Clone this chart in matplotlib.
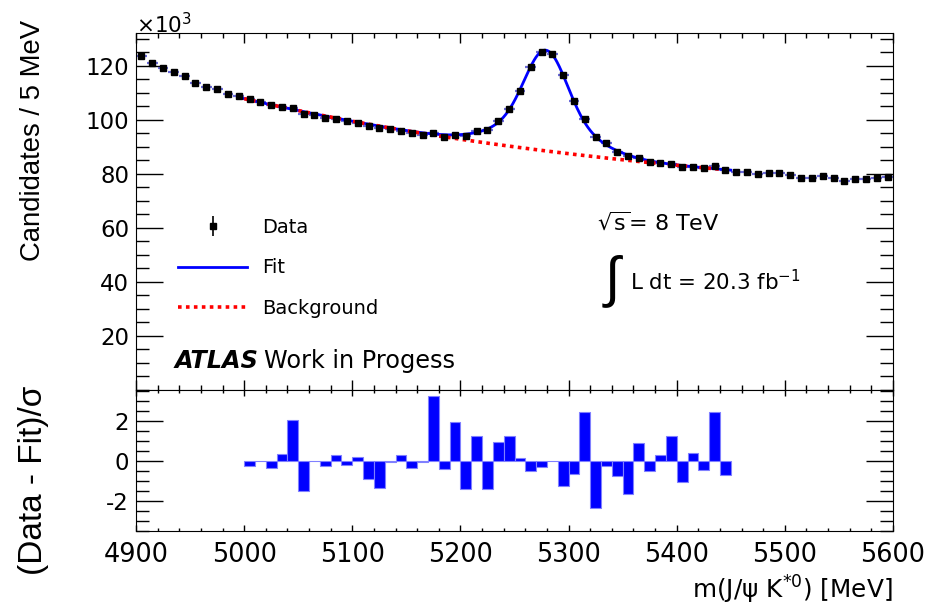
import numpy as np
import matplotlib
matplotlib.use('Agg')
import matplotlib.pyplot as plt
from matplotlib.ticker import MultipleLocator, FixedLocator

plt.rcParams['font.family'] = ['DejaVu Sans']
plt.rcParams['mathtext.fontset'] = 'dejavusans'
plt.rcParams['axes.unicode_minus'] = False

# ---------------- data ----------------
bin_width = 10.0
bin_centers = np.arange(4905, 5600, 10)
counts_k = [123.7, 121.0, 119.3, 117.6, 116.2, 113.6, 112.2, 111.5, 109.5, 108.9,
            107.6, 106.5, 105.4, 104.8, 104.4, 102.1, 101.8, 100.8, 100.3, 99.4,
            98.7, 97.7, 96.9, 96.5, 95.9, 95.0, 94.2, 95.2, 93.6, 94.3,
            93.8, 95.7, 96.2, 99.4, 104.0, 110.7, 119.4, 125.0, 124.3, 116.6,
            107.1, 100.3, 93.5, 91.3, 88.0, 86.6, 85.9, 84.3, 84.0, 83.6,
            82.3, 82.6, 82.0, 82.9, 81.4, 80.6, 80.6, 79.8, 80.1, 80.1,
            79.4, 78.5, 78.5, 79.0, 78.5, 77.4, 77.9, 77.9, 78.3, 78.6]

# residual bins (left edges) and pulls
resid_edges = np.arange(5000, 5450, 10)
pulls = [-0.28, 0.0, -0.38, 0.35, 2.03, -1.48, -0.03, -0.28, 0.28, -0.23,
         0.18, -0.90, -1.33, -0.08, 0.28, -0.38, -0.08, 3.23, -0.43, 1.93,
         -1.38, 1.25, -1.38, 0.92, 1.25, 0.13, -0.52, -0.33, 0.0, -1.25,
         -0.67, 2.42, -2.37, -0.28, -0.78, -1.63, 0.88, -0.52, 0.28, 1.25,
         -1.05, 0.40, -0.47, 2.42, -0.72]

# fit model parameters (in units of 10^3 candidates)
fit_range = (5000, 5450)
bkg_const, bkg_amp, bkg_tau = 65.9, 41.9, 450.0
sig_mu = 5279.0
sig_a1, sig_s1 = 25.3, 19.0
sig_a2, sig_s2 = 12.0, 40.0


def background(m):
    return bkg_const + bkg_amp * np.exp(-(m - 5000.0) / bkg_tau)


def total_fit(m):
    d = m - sig_mu
    sig = sig_a1 * np.exp(-0.5 * (d / sig_s1) ** 2) + sig_a2 * np.exp(-0.5 * (d / sig_s2) ** 2)
    return background(m) + sig


counts = np.array(counts_k)
yerr = np.sqrt(counts * 1000.0) / 1000.0

# ---------------- figure ----------------
W, H = 929, 609
fig = plt.figure(figsize=(W / 100, H / 100), dpi=100)

L, R = 136, 893
T1, B1 = 33.3, 389.7
T2, B2 = 389.7, 531.0
ax1 = fig.add_axes([L / W, 1 - B1 / H, (R - L) / W, (B1 - T1) / H])
ax2 = fig.add_axes([L / W, 1 - B2 / H, (R - L) / W, (B2 - T2) / H], sharex=ax1)


def ax_xy(px, py):
    return (px - L) / (R - L), 1 - (py - T1) / (B1 - T1)


# top panel
mfine = np.linspace(fit_range[0], fit_range[1], 600)
ax1.hlines(counts, bin_centers - bin_width / 2, bin_centers + bin_width / 2,
           color='#6a6ad8', lw=1.6, zorder=2)
hdata = ax1.errorbar(bin_centers, counts, yerr=yerr, fmt='s', color='black', ms=5,
                     elinewidth=1.2, capsize=0, zorder=4, label='Data')
hfit, = ax1.plot(mfine, total_fit(mfine), color='#0000ff', lw=2.0, zorder=3, label='Fit')
hbkg, = ax1.plot(mfine, background(mfine), color='#ff0000', lw=2.6,
                 ls=(0, (1, 1.2)), zorder=3, label='Background')

ax1.set_xlim(4900, 5600)
ax1.set_ylim(0, 132.0)
ax1.yaxis.set_major_locator(FixedLocator([20, 40, 60, 80, 100, 120]))
ax1.yaxis.set_minor_locator(MultipleLocator(5))
ax1.xaxis.set_major_locator(MultipleLocator(100))
ax1.xaxis.set_minor_locator(MultipleLocator(20))
ax1.tick_params(axis='both', which='both', direction='in', top=True, right=True,
                labelbottom=False, labelsize=16.5)
ax1.tick_params(axis='y', which='major', length=19.4, width=1, pad=5)
ax1.tick_params(axis='y', which='minor', length=9.4, width=1)
ax1.tick_params(axis='x', which='major', length=7.2, width=1)
ax1.tick_params(axis='x', which='minor', length=3.6, width=1)
ax1.text(0.0, 1.0, r'$\times$10$^{3}$', transform=ax1.transAxes, fontsize=15.5,
         ha='left', va='baseline')

leg = ax1.legend(handles=[hdata, hfit, hbkg], loc='upper left',
                 bbox_to_anchor=ax_xy(178, 218),
                 frameon=False, fontsize=14, handlelength=3.55, handletextpad=0.77,
                 labelspacing=1.1, borderpad=0, borderaxespad=0)

ax1.text(*ax_xy(597, 222), r'$\sqrt{\mathrm{s}}$= 8 TeV',
         transform=ax1.transAxes, fontsize=16, va='center', ha='left')
ax1.text(*ax_xy(605, 281), '\u222b',
         transform=ax1.transAxes, fontsize=40, va='center', ha='left',
         family=['Liberation Sans', 'DejaVu Sans'])
ax1.text(*ax_xy(630, 282), r'L dt = 20.3 fb$^{-1}$',
         transform=ax1.transAxes, fontsize=15.4, va='center', ha='left')
ax1.text(*ax_xy(175, 361), 'ATLAS',
         transform=ax1.transAxes, fontsize=17.3, fontweight='bold', fontstyle='italic',
         va='center', ha='left')
ax1.text(*ax_xy(264, 361), 'Work in Progess',
         transform=ax1.transAxes, fontsize=17.3, va='center', ha='left')

# residual panel
ax2.bar(resid_edges, pulls, width=bin_width, align='edge', color='#0000ff',
        edgecolor='#8080ff', linewidth=0.8)
ax2.set_ylim(-3.5, 3.55)
ax2.yaxis.set_major_locator(FixedLocator([-2, 0, 2]))
ax2.yaxis.set_minor_locator(MultipleLocator(0.5))
ax2.tick_params(axis='both', which='both', direction='in', top=True, right=True)
ax2.tick_params(axis='y', labelsize=16.5)
ax2.tick_params(axis='x', labelsize=18.4)
ax2.tick_params(axis='y', which='major', length=19.4, width=1, pad=5)
ax2.tick_params(axis='y', which='minor', length=9.4, width=1)
ax2.tick_params(axis='x', which='major', length=4.5, width=1, pad=8)
ax2.tick_params(axis='x', which='minor', length=2.5, width=1)
ax2.set_xlim(4900, 5600)

# axis titles
fig.text(33 / W, 1 - 20 / H, 'Candidates / 5 MeV', rotation=90, ha='center', va='top',
         fontsize=19.8, family=['Liberation Sans', 'DejaVu Sans'])
fig.text(34 / W, 1 - 386 / H, '(Data - Fit)/\u03c3', rotation=90, ha='center', va='top',
         fontsize=24, family=['Liberation Sans', 'DejaVu Sans'])
fig.text(893 / W, 1 - 590 / H, 'm(J/\u03c8 K$^{*0}$) [MeV]', ha='right', va='center',
         fontsize=17.8)

fig.savefig('out.png', dpi=100)
